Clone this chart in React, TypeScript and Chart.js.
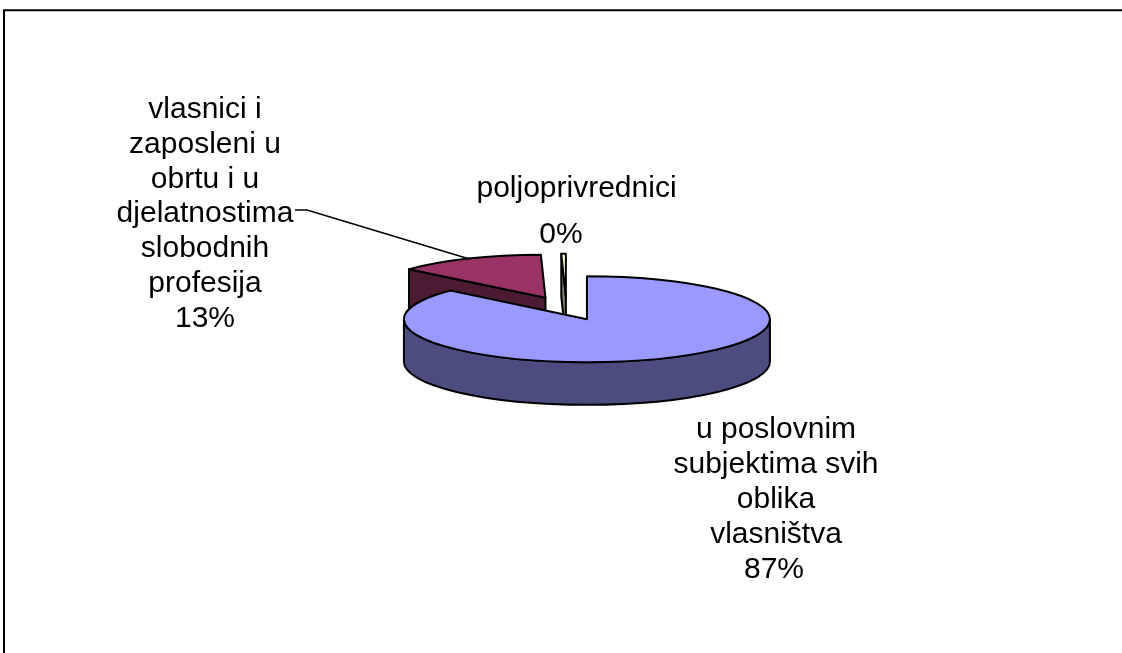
import React, { useEffect, useRef } from "react";
import { Chart, registerables } from "chart.js";

Chart.register(...registerables);

// ---- data ----
const categories: string[][] = [
  ["u poslovnim", "subjektima svih", "oblika", "vlasništva"],
  ["vlasnici i", "zaposleni u", "obrtu i u", "djelatnostima", "slobodnih", "profesija"],
  ["poljoprivrednici"],
];
const values: number[] = [86.6, 13.0, 0.4];
const topColors: string[] = ["#9999FF", "#993366", "#FFFFCC"];
const sideColors: string[] = ["#4C4C80", "#4D1A33", "#808066"];

// ---- look ----
const TILT = 0.235;
const DEPTH = 42.6;
const EXPLODE = 50;
const FONT = '30px "Liberation Sans", Arial, sans-serif';

// label anchors (center x, first baseline, line height, pct position)
const labelLayout = [
  { x: 776, y: 438, lh: 35, px: 774, py: 578 },
  { x: 205, y: 118, lh: 34.8, px: 205, py: 327 },
  { x: 576.5, y: 197, lh: 35, px: 561, py: 243 },
];
const leaderFrom = [
  [295, 210],
  [307, 210],
];

type Slice = { i: number; cx: number; cy: number; a0: number; a1: number; r: number; mid: number };

function slices(chart: any): Slice[] {
  const meta = chart.getDatasetMeta(0);
  return meta.data.map((el: any, i: number) => {
    const p = el.getProps(["x", "y", "startAngle", "endAngle", "outerRadius"], true);
    const mid = (p.startAngle + p.endAngle) / 2;
    return {
      i,
      cx: p.x + Math.cos(mid) * EXPLODE,
      cy: p.y + Math.sin(mid) * EXPLODE * TILT,
      a0: p.startAngle,
      a1: p.endAngle,
      r: p.outerRadius,
      mid,
    };
  });
}

const pie3d = {
  id: "pie3d",
  beforeDraw(chart: any) {
    const ctx = chart.ctx;
    ctx.save();
    ctx.fillStyle = "#fff";
    ctx.fillRect(0, 0, chart.width, chart.height);
    ctx.strokeStyle = "#000";
    ctx.lineWidth = 2;
    ctx.strokeRect(4, 10.25, 1400, 1000);
    ctx.restore();
  },
  beforeDatasetsDraw(chart: any) {
    const ctx: CanvasRenderingContext2D = chart.ctx;
    const list = slices(chart).sort((p, q) => Math.sin(p.mid) - Math.sin(q.mid));
    const k = TILT;
    const h = DEPTH;
    ctx.save();
    ctx.lineJoin = "round";
    ctx.lineWidth = 2;
    ctx.strokeStyle = "#000";
    for (const s of list) {
      const rk = s.r * k;
      const face = (a: number) => {
        ctx.beginPath();
        ctx.moveTo(s.cx, s.cy);
        ctx.lineTo(s.cx + s.r * Math.cos(a), s.cy + rk * Math.sin(a));
        ctx.lineTo(s.cx + s.r * Math.cos(a), s.cy + rk * Math.sin(a) + h);
        ctx.lineTo(s.cx, s.cy + h);
        ctx.closePath();
        ctx.fillStyle = sideColors[s.i];
        ctx.fill();
        ctx.stroke();
      };
      // radial faces
      if (Math.cos(s.a0) < -1e-6) face(s.a0);
      if (Math.cos(s.a1) > 1e-6) face(s.a1);
      // outer wall, front half only
      for (let n = -1; n <= 1; n++) {
        const st = Math.max(s.a0, n * 2 * Math.PI);
        const en = Math.min(s.a1, n * 2 * Math.PI + Math.PI);
        if (en > st) {
          ctx.beginPath();
          ctx.moveTo(s.cx + s.r * Math.cos(st), s.cy + rk * Math.sin(st));
          ctx.ellipse(s.cx, s.cy, s.r, rk, 0, st, en, false);
          ctx.lineTo(s.cx + s.r * Math.cos(en), s.cy + rk * Math.sin(en) + h);
          ctx.ellipse(s.cx, s.cy + h, s.r, rk, 0, en, st, true);
          ctx.closePath();
          ctx.fillStyle = sideColors[s.i];
          ctx.fill();
          ctx.stroke();
        }
      }
      // top face
      ctx.beginPath();
      ctx.moveTo(s.cx, s.cy);
      ctx.ellipse(s.cx, s.cy, s.r, rk, 0, s.a0, s.a1, false);
      ctx.closePath();
      ctx.fillStyle = topColors[s.i];
      ctx.fill();
      ctx.stroke();
    }
    ctx.restore();
    return false;
  },
  afterDraw(chart: any) {
    const ctx: CanvasRenderingContext2D = chart.ctx;
    const all = slices(chart);
    const total = values.reduce((a, b) => a + b, 0);
    ctx.save();
    // leader line for the second slice
    const red = all[1];
    ctx.strokeStyle = "#000";
    ctx.lineWidth = 1.6;
    ctx.beginPath();
    ctx.moveTo(leaderFrom[0][0], leaderFrom[0][1]);
    ctx.lineTo(leaderFrom[1][0], leaderFrom[1][1]);
    ctx.lineTo(red.cx + red.r * Math.cos(red.mid), red.cy + red.r * TILT * Math.sin(red.mid));
    ctx.stroke();
    // labels
    ctx.fillStyle = "#000";
    ctx.font = FONT;
    ctx.textAlign = "center";
    ctx.textBaseline = "alphabetic";
    categories.forEach((lines, i) => {
      const L = labelLayout[i];
      lines.forEach((t, j) => ctx.fillText(t, L.x, L.y + j * L.lh));
      const pct = Math.round((values[i] / total) * 100) + "%";
      ctx.fillText(pct, L.px, L.py);
    });
    ctx.restore();
  },
};

export default function App() {
  const ref = useRef<HTMLCanvasElement | null>(null);
  useEffect(() => {
    if (!ref.current) return;
    const chart = new Chart(ref.current, {
      type: "pie",
      data: {
        labels: categories,
        datasets: [
          {
            data: values,
            backgroundColor: topColors,
            borderColor: "#000",
            borderWidth: 2,
          },
        ],
      },
      options: {
        animation: false,
        responsive: false,
        maintainAspectRatio: false,
        events: [],
        radius: 183,
        layout: { padding: { left: 383, right: 372, top: 125, bottom: 161 } },
        plugins: { legend: { display: false }, tooltip: { enabled: false } },
      } as any,
      plugins: [pie3d as any],
    });
    return () => chart.destroy();
  }, []);
  return (
    <div style={{ position: "fixed", left: 0, top: 0, width: 1122, height: 653, background: "#fff" }}>
      <canvas ref={ref} width={1122} height={653} style={{ display: "block", width: 1122, height: 653 }} />
    </div>
  );
}
